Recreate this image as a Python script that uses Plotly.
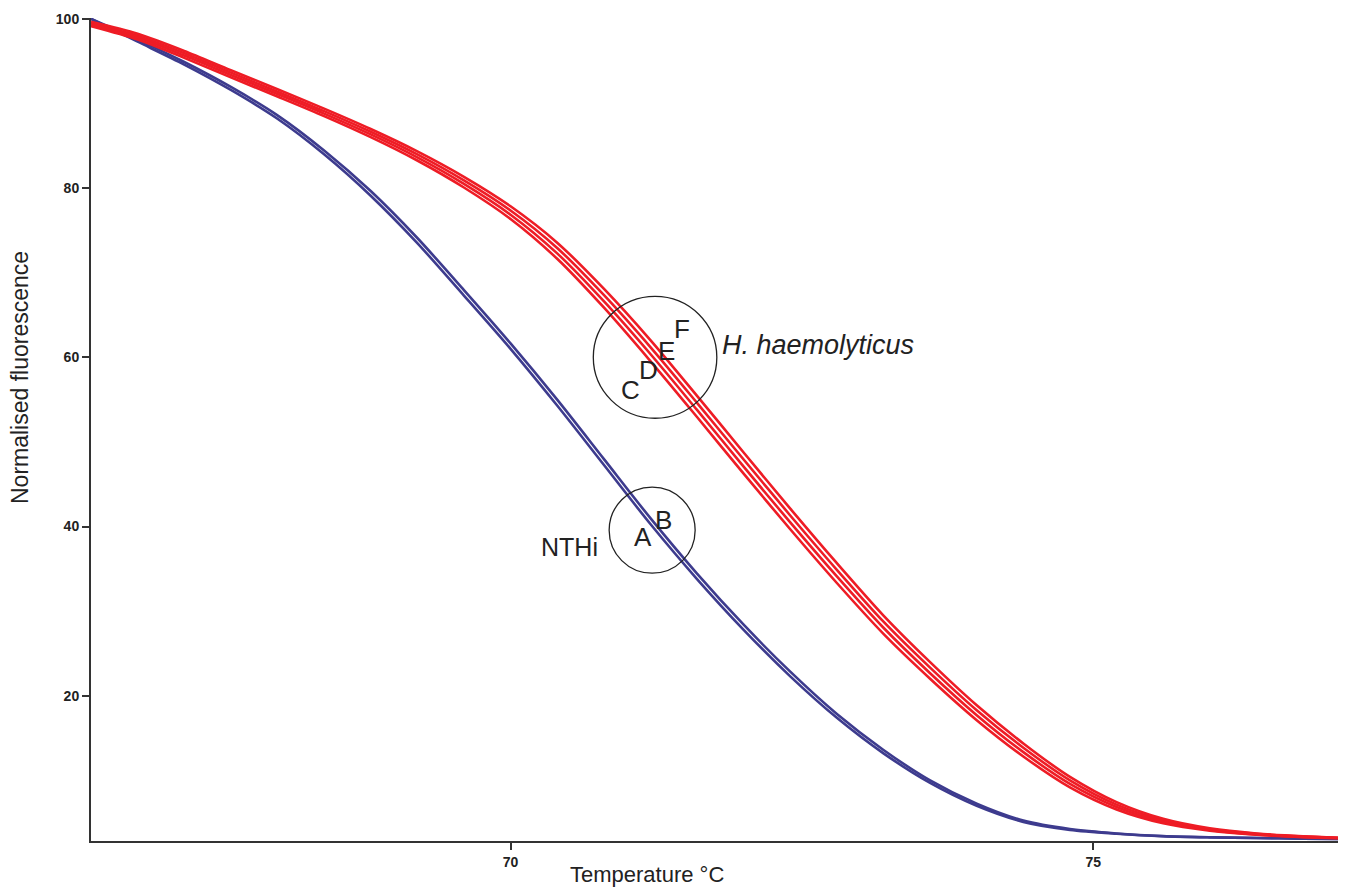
import plotly.graph_objects as go

# Temperature grid (°C)
temps = [66.4, 66.8, 67.2, 67.6, 68.0, 68.4, 68.8, 69.2, 69.6, 70.0, 70.4, 70.8,
         71.2, 71.6, 72.0, 72.4, 72.8, 73.2, 73.6, 74.0, 74.4, 74.8, 75.2, 75.6,
         76.0, 76.4, 76.8, 77.1]

# NTHi (blue)
nthi_a = [100.0, 97.3, 94.6, 91.6, 88.2, 84.0, 79.1, 73.5, 67.3, 61.0, 54.3, 47.3,
          40.3, 33.8, 27.8, 22.3, 17.4, 13.2, 9.7, 7.0, 5.1, 4.15, 3.7, 3.4,
          3.27, 3.2, 3.12, 3.07]
nthi_b = [100.0, 97.55, 94.9, 91.95, 88.6, 84.45, 79.65, 74.1, 67.95, 61.65, 55.0, 48.0,
          41.0, 34.45, 28.4, 22.85, 17.85, 13.6, 10.0, 7.25, 5.25, 4.25, 3.73, 3.42,
          3.28, 3.2, 3.12, 3.07]

# H. haemolyticus (red)
hh_c = [99.14, 97.56, 95.39, 93.08, 90.82, 88.51, 86.02, 83.26, 80.07, 76.35, 71.65, 65.89,
        59.56, 52.95, 46.25, 39.68, 33.33, 27.32, 22.02, 17.12, 12.83, 9.18, 6.57, 4.94,
        4.06, 3.57, 3.30, 3.17]
hh_d = [99.31, 97.79, 95.66, 93.36, 91.11, 88.80, 86.34, 83.62, 80.49, 76.85, 72.28, 66.63,
        60.39, 53.78, 47.08, 40.49, 34.11, 28.04, 22.67, 17.71, 13.34, 9.59, 6.86, 5.11,
        4.15, 3.62, 3.33, 3.19]
hh_e = [99.49, 98.01, 95.94, 93.64, 91.39, 89.10, 86.66, 83.98, 80.91, 77.35, 72.92, 67.37,
        61.21, 54.62, 47.92, 41.31, 34.89, 28.76, 23.33, 18.29, 13.86, 10.01, 7.14, 5.29,
        4.25, 3.68, 3.37, 3.21]
hh_f = [99.66, 98.24, 96.21, 93.92, 91.68, 89.39, 86.98, 84.34, 81.33, 77.85, 73.55, 68.11,
        62.04, 55.45, 48.75, 42.12, 35.67, 29.48, 23.98, 18.88, 14.37, 10.42, 7.43, 5.46,
        4.34, 3.73, 3.40, 3.23]

x_ticks = [70, 75]
y_ticks = [20, 40, 60, 80, 100]

BLUE = "#3d3b8e"
RED = "#ee1c25"
FONT = "Arial, Liberation Sans, sans-serif"
TXT = "#222222"

fig = go.Figure()
for name, ys in [("A", nthi_a), ("B", nthi_b)]:
    fig.add_trace(go.Scatter(x=temps, y=ys, mode="lines", name=name,
                             line=dict(color=BLUE, width=2.6, shape="spline", smoothing=0.8)))
for name, ys in [("C", hh_c), ("D", hh_d), ("E", hh_e), ("F", hh_f)]:
    fig.add_trace(go.Scatter(x=temps, y=ys, mode="lines", name=name,
                             line=dict(color=RED, width=2.6, shape="spline", smoothing=0.8)))

# circles
fig.add_shape(type="circle", xref="x", yref="y", x0=70.71, x1=71.77, y0=52.8, y1=67.2,
              line=dict(color=TXT, width=1.3))
fig.add_shape(type="circle", xref="x", yref="y", x0=70.846, x1=71.584, y0=34.49, y1=44.65,
              line=dict(color=TXT, width=1.3))

labels = [("C", 71.03, 56.1), ("D", 71.18, 58.5), ("E", 71.34, 60.8), ("F", 71.47, 63.4),
          ("A", 71.14, 38.8), ("B", 71.31, 40.8)]
for t, xx, yy in labels:
    fig.add_annotation(x=xx, y=yy, text=t, showarrow=False,
                       font=dict(family=FONT, size=26, color=TXT))

fig.add_annotation(x=71.80, y=61.4, text="<i>H. haemolyticus</i>", showarrow=False,
                   xanchor="left", font=dict(family=FONT, size=27, color=TXT))
fig.add_annotation(x=70.51, y=37.6, text="NTHi", showarrow=False,
                   font=dict(family=FONT, size=25, color=TXT))

# axis titles as annotations (positioned as in reference)
fig.add_annotation(xref="paper", yref="paper", x=(647 - 91) / (1338 - 91),
                   y=-(874 - 841) / (841 - 18), yanchor="middle",
                   text="Temperature °C", showarrow=False,
                   font=dict(family=FONT, size=22, color=TXT))
fig.add_annotation(xref="paper", yref="paper", x=(20 - 91) / (1338 - 91),
                   y=(841 - 378) / (841 - 18), xanchor="center",
                   text="Normalised fluorescence", showarrow=False, textangle=-90,
                   font=dict(family=FONT, size=23, color=TXT))

fig.update_layout(
    width=1345, height=888,
    margin=dict(l=91, r=7, t=18, b=47),
    paper_bgcolor="white", plot_bgcolor="white",
    showlegend=False,
    xaxis=dict(range=[66.40, 77.10], tickvals=x_ticks, ticktext=[f"<b>{v}</b>" for v in x_ticks],
               showgrid=False, zeroline=False, showline=True, linecolor="#333333", linewidth=2,
               ticks="outside", ticklen=7, tickwidth=1.5, tickcolor="#333333",
               tickfont=dict(family=FONT, size=14, color=TXT)),
    yaxis=dict(range=[2.84, 100.1], tickvals=y_ticks, ticktext=[f"<b>{v}</b>" for v in y_ticks],
               showgrid=False, zeroline=False, showline=True, linecolor="#333333", linewidth=2,
               ticks="outside", ticklen=7, tickwidth=1.5, tickcolor="#333333",
               tickfont=dict(family=FONT, size=14, color=TXT)),
)

fig.write_html("out.html", config={"displayModeBar": False},
               post_script="document.body.style.margin='0';document.body.style.overflow='hidden';")
